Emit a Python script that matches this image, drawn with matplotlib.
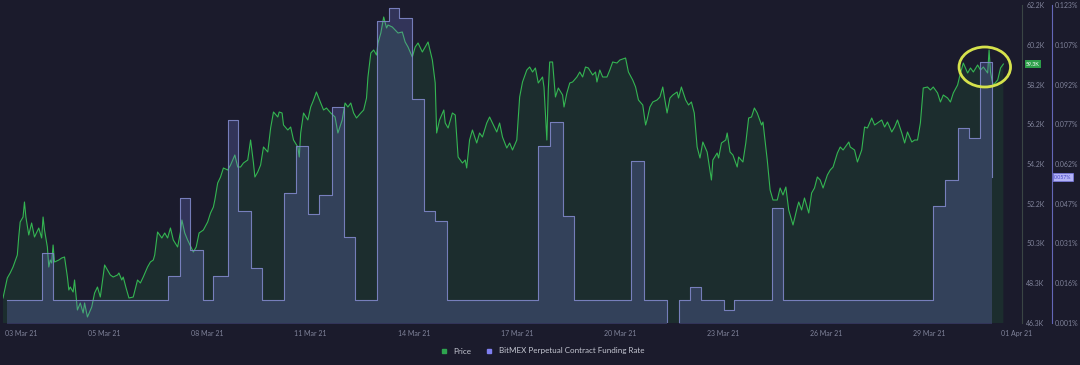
import numpy as np
import matplotlib.pyplot as plt
from matplotlib.patches import Ellipse
from matplotlib.lines import Line2D

plt.rcParams['font.family'] = ['Lato', 'DejaVu Sans']

# hours counted from 02 Mar 2021 00:00
price_hours = [
    1, 4, 6, 8, 11, 12, 13, 15, 16, 17,
    19, 21, 23, 26, 28, 29, 30, 32, 33, 34,
    35, 36, 37, 40, 42, 44, 46, 47, 48, 50,
    51, 53, 55, 57, 58, 60, 63, 65, 67, 69,
    72, 74, 76, 78, 81, 82, 84, 85, 87, 89,
    92, 95, 97, 99, 102, 104, 106, 107, 109, 112,
    114, 116, 118, 120, 123, 125, 126, 128, 130, 134,
    136, 138, 141, 144, 146, 148, 149, 151, 153, 155,
    158, 160, 163, 165, 167, 169, 172, 174, 176, 177,
    179, 181, 183, 186, 188, 190, 193, 194, 196, 197,
    200, 202, 204, 207, 208, 209, 211, 214, 216, 218,
    220, 223, 225, 227, 230, 233, 235, 238, 240, 242,
    244, 246, 248, 251, 253, 255, 256, 258, 260, 262,
    263, 265, 267, 269, 270, 273, 275, 277, 280, 282,
    284, 287, 289, 291, 294, 296, 298, 301, 303, 304,
    306, 309, 310, 312, 315, 317, 319, 322, 324, 325,
    327, 329, 332, 334, 336, 339, 341, 343, 346, 348,
    350, 353, 355, 357, 360, 362, 364, 367, 369, 371,
    373, 375, 378, 379, 381, 382, 383, 385, 387, 389,
    392, 393, 395, 397, 399, 402, 404, 406, 408, 410,
    413, 415, 416, 418, 420, 423, 425, 427, 430, 432,
    436, 438, 441, 443, 445, 448, 450, 451, 453, 455,
    458, 460, 462, 465, 467, 469, 472, 473, 475, 478,
    480, 482, 484, 486, 488, 490, 493, 496, 497, 500,
    501, 503, 506, 507, 509, 511, 514, 515, 518, 520,
    522, 524, 526, 528, 531, 532, 535, 537, 539, 542,
    544, 546, 548, 550, 553, 556, 557, 559, 561, 564,
    566, 568, 570, 572, 574, 577, 579, 581, 584, 586,
    588, 592, 593, 596, 598, 601, 603, 605, 608, 610,
    612, 615, 617, 619, 622, 624, 626, 629, 631, 633,
    636, 638, 640, 642, 644, 647, 649, 651, 654, 656,
    658, 661, 663, 665, 668, 670, 672, 675, 677, 679,
    682, 684, 686, 689, 690, 691, 692, 693, 696, 698,
    700,
]
# BTC price, thousands of USD
price_k = [
    47.55, 48.55, 48.8, 49.1, 49.7, 50.6, 51.35, 51.6, 52.35, 51.6,
    50.7, 51.3, 50.6, 51.05, 50.55, 51.6, 50.95, 50.1, 49.1, 49.45,
    49.3, 50.2, 49.35, 49.45, 49.55, 49.6, 48.6, 47.95, 48.1, 47.85,
    48.45, 46.95, 47.3, 46.8, 47.3, 46.6, 47.1, 47.8, 48.1, 47.6,
    49.2, 48.95, 48.7, 48.6, 48.7, 48.8, 48.45, 48.6, 48.05, 47.55,
    47.6, 48.45, 48.3, 48.6, 49.1, 49.35, 49.45, 49.7, 50.85, 50.55,
    50.8, 50.55, 51.05, 50.45, 50.1, 50.85, 51.45, 50.8, 50.45, 49.85,
    50.1, 50.8, 50.95, 51.35, 51.8, 52.1, 52.45, 53.3, 53.6, 54.05,
    53.95, 54.2, 54.7, 54.1, 54.1, 54.3, 54.45, 55.45, 54.3, 53.6,
    53.85, 54.2, 55.1, 54.85, 56.05, 56.85, 56.6, 56.85, 56.8, 56.2,
    55.95, 56.1, 55.45, 55.1, 54.6, 55.8, 56.8, 56.45, 57.1, 57.45,
    57.85, 57.3, 56.95, 57.05, 56.8, 56.6, 55.8, 56.45, 57.3, 57.1,
    57.3, 56.8, 56.55, 56.8, 56.95, 57.55, 58.6, 59.8, 59.95, 59.7,
    60.3, 60.8, 61.6, 61.05, 61.2, 61.1, 60.95, 60.8, 60.85, 60.35,
    60.1, 59.6, 60.1, 60.3, 59.85, 60.1, 60.35, 59.45, 58.3, 55.8,
    56.45, 56.95, 56.3, 56.05, 56.8, 56.7, 54.6, 54.3, 54.45, 54.05,
    55.45, 55.95, 55.3, 55.8, 55.6, 56.3, 56.6, 56.3, 55.85, 56.3,
    55.6, 55.05, 55.3, 54.95, 55.45, 57.6, 58.35, 58.95, 59.1, 58.85,
    59.05, 58.3, 58.6, 58.1, 55.45, 57.95, 59.35, 59.35, 57.6, 58.05,
    57.7, 57.1, 57.8, 58.3, 58.35, 58.6, 58.85, 58.6, 59.1, 59.05,
    58.7, 58.85, 58.35, 58.95, 58.6, 58.6, 58.95, 59.35, 59.3, 59.45,
    59.55, 58.85, 58.45, 58.1, 57.45, 57.2, 56.2, 56.45, 57.1, 57.35,
    57.45, 57.6, 58.1, 56.8, 57.55, 57.7, 57.85, 57.55, 58.1, 57.45,
    57.2, 57.35, 56.8, 55.1, 54.55, 55.35, 54.85, 53.45, 54.45, 54.8,
    54.55, 55.3, 55.45, 55.8, 54.85, 54.7, 54.1, 54.6, 54.35, 55.3,
    56.55, 56.6, 57.05, 56.8, 56.2, 56.35, 54.45, 52.95, 52.45, 52.45,
    53.05, 52.7, 53.1, 51.95, 51.2, 52.1, 52.35, 51.95, 52.55, 51.8,
    52.8, 53.05, 53.6, 53.45, 53.05, 53.7, 53.95, 54.1, 54.8, 55.1,
    54.95, 55.35, 55.1, 54.95, 54.35, 54.95, 56.1, 56.05, 56.55, 56.2,
    56.3, 56.45, 56.1, 56.35, 55.85, 56.1, 56.45, 55.8, 55.3, 55.85,
    55.35, 55.45, 55.45, 56.3, 58.05, 58.1, 57.95, 58.1, 57.8, 57.35,
    57.7, 57.55, 57.35, 57.8, 58.2, 58.8, 59.3, 58.8, 59.05, 58.85,
    59.2, 58.95, 59.1, 58.8, 59.95, 58.85, 58.45, 58.2, 58.45, 59.05,
    59.25,
]

# funding rate changes (hour, rate in %)
funding_hours = [4, 28, 36, 116, 125, 132, 141, 148, 158, 165,
                 174, 182, 197, 206, 214, 222, 231, 239, 247, 262,
                 271, 278, 287, 295, 303, 311, 375, 383, 392, 400,
                 440, 449, 465, 473, 481, 489, 505, 512, 538, 546,
                 651, 659, 668, 676, 684, 692]
funding_rate = [0.010, 0.028, 0.010, 0.019, 0.049, 0.029, 0.010, 0.019, 0.079, 0.044,
                0.022, 0.010, 0.051, 0.069, 0.043, 0.050, 0.084, 0.034, 0.010, 0.117,
                0.122, 0.118, 0.087, 0.044, 0.040, 0.010, 0.069, 0.078, 0.042, 0.010,
                0.063, 0.010, -0.003, 0.010, 0.015, 0.010, 0.006, 0.010, 0.045, 0.010,
                0.046, 0.056, 0.076, 0.072, 0.101, 0.057]

date_labels = ['03 Mar 21', '05 Mar 21', '08 Mar 21', '11 Mar 21', '14 Mar 21', '17 Mar 21',
               '20 Mar 21', '23 Mar 21', '26 Mar 21', '29 Mar 21', '01 Apr 21']
date_hours = [14, 72, 144, 216, 288, 360, 432, 504, 576, 648, 709]

price_labels = ['46.3K', '48.3K', '50.3K', '52.2K', '54.2K', '56.2K', '58.2K', '60.2K', '62.2K']
rate_labels = ['0.001%', '0.016%', '0.031%', '0.047%', '0.062%', '0.077%', '0.092%', '0.107%', '0.123%']

bg = '#1b1b2c'
tick_col = '#80839a'

fig = plt.figure(figsize=(10.8, 3.65), dpi=100, facecolor=bg)
ax = fig.add_axes([3 / 1080, 42 / 365, 1019 / 1080, 318 / 365])
ax.set_facecolor(bg)

# price
ax.fill_between(price_hours, price_k, 40, color='#2ecc40', alpha=0.1, lw=0)
ax.plot(price_hours, price_k, color='#34b552', lw=0.8)
ax.set_xlim(1, 713)
ax.set_ylim(46.3, 62.2)

# funding rate on its own axis
ax2 = ax.twinx()
ax2.fill_between(funding_hours, funding_rate, -0.01, step='post',
                 color='#7a7fe0', alpha=0.25, lw=0)
ax2.step(funding_hours, funding_rate, where='post', color='#7f87c8', lw=0.8, alpha=0.9)
ax2.set_ylim(0.001, 0.123)

for s in ['top', 'left', 'bottom']:
    ax.spines[s].set_visible(False)
    ax2.spines[s].set_visible(False)
ax.spines['right'].set_color('#3a4544')
ax.spines['right'].set_linewidth(0.8)
ax2.spines['right'].set_position(('outward', 21.6))
ax2.spines['right'].set_color('#6467b8')
ax2.spines['right'].set_linewidth(0.8)

ax.yaxis.set_ticks_position('right')
ax.set_yticks(np.linspace(46.3, 62.2, 9), price_labels)
ax.tick_params(axis='y', length=0, pad=3, labelsize=5, labelcolor=tick_col)
ax2.set_yticks(np.linspace(0.001, 0.123, 9), rate_labels)
ax2.tick_params(axis='y', length=0, pad=2.2, labelsize=5, labelcolor=tick_col)
ax.set_xticks(date_hours, date_labels)
ax.tick_params(axis='x', length=0, pad=5, labelsize=5, labelcolor=tick_col)

# highlight ring around the latest move
ring = Ellipse((687, 59.1), 36, 2.0, fill=False, edgecolor='#d6e24c', lw=2,
               transform=ax.transData, zorder=6)
ax2.add_patch(ring)

# last value badges
ax.text(1.004, price_k[-1], '59.3K', transform=ax.get_yaxis_transform(), fontsize=3.8,
        color='white', va='center', ha='left',
        bbox=dict(boxstyle='square,pad=0.25', fc='#2c9e49', ec='none'))
ax2.text(1.0314, funding_rate[-1], '0.057%', transform=ax2.get_yaxis_transform(), fontsize=3.8,
         color='#4747c8', va='center', ha='left',
         bbox=dict(boxstyle='square,pad=0.25', fc='#b3b3f7', ec='#7a7ae8', lw=0.5))

handles = [Line2D([], [], marker='s', ls='', color='#2ea44f', markersize=3.5, label='Price'),
           Line2D([], [], marker='s', ls='', color='#7f7ff0', markersize=3.5,
                  label='BitMEX Perpetual Contract Funding Rate')]
fig.legend(handles=handles, loc='center', bbox_to_anchor=(0.5, 14 / 365), ncol=2,
           frameon=False, fontsize=5.8, labelcolor='#c5c7d2', handletextpad=0.2,
           columnspacing=1.2)

fig.savefig('out.png', dpi=100, facecolor=bg)
